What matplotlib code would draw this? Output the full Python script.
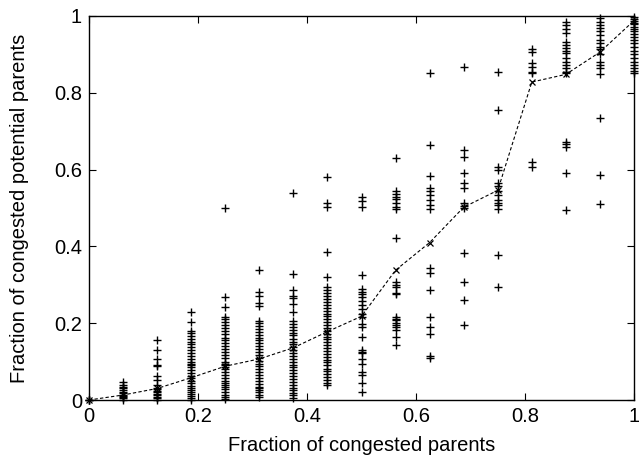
import matplotlib
matplotlib.use("Agg")
import matplotlib.pyplot as plt
from matplotlib.ticker import FuncFormatter

plt.rcParams['font.family'] = ['Liberation Sans', 'DejaVu Sans']

# x positions of the columns (fraction of congested parents, k/16)
fractions = [k / 16 for k in range(17)]

col0 = [0.0, 0.0, 0.0]
col1 = [0.047, 0.04, 0.035, 0.03, 0.026, 0.022, 0.018, 0.014, 0.01, 0.007, 0.004, 0.0]
col2 = [0.156, 0.13, 0.106, 0.09, 0.088, 0.063, 0.052, 0.04, 0.032, 0.028, 0.024, 0.02,
        0.016, 0.012, 0.008, 0.004, 0.0]
col3 = [0.229, 0.203, 0.18, 0.175, 0.166, 0.16, 0.152, 0.145, 0.138, 0.13, 0.122, 0.115,
        0.108, 0.1, 0.095, 0.09, 0.085, 0.078, 0.07, 0.062, 0.056, 0.05, 0.044, 0.036,
        0.03, 0.025, 0.02, 0.015, 0.01, 0.005, 0.0]
col4 = [0.5, 0.269, 0.241, 0.216, 0.21, 0.204, 0.196, 0.188, 0.18, 0.172, 0.162, 0.155,
        0.148, 0.14, 0.132, 0.125, 0.118, 0.11, 0.1, 0.095, 0.09, 0.085, 0.08, 0.072,
        0.065, 0.058, 0.05, 0.045, 0.04, 0.035, 0.028, 0.02, 0.014, 0.008, 0.003]
col5 = [0.338, 0.282, 0.272, 0.252, 0.246, 0.207, 0.2, 0.193, 0.186, 0.178, 0.17, 0.162,
        0.155, 0.148, 0.14, 0.132, 0.125, 0.118, 0.11, 0.102, 0.095, 0.088, 0.08, 0.072,
        0.064, 0.056, 0.05, 0.042, 0.035, 0.03, 0.025, 0.02, 0.014, 0.009]
col6 = [0.54, 0.328, 0.286, 0.272, 0.265, 0.25, 0.23, 0.205, 0.198, 0.19, 0.182, 0.175,
        0.168, 0.16, 0.152, 0.145, 0.138, 0.13, 0.122, 0.115, 0.108, 0.1, 0.092, 0.085,
        0.078, 0.07, 0.062, 0.055, 0.048, 0.04, 0.032, 0.025, 0.018, 0.012, 0.006]
col7 = [0.58, 0.512, 0.502, 0.386, 0.321, 0.295, 0.286, 0.278, 0.27, 0.262, 0.255, 0.248,
        0.24, 0.232, 0.225, 0.218, 0.21, 0.202, 0.195, 0.188, 0.18, 0.172, 0.165, 0.158,
        0.15, 0.142, 0.135, 0.128, 0.12, 0.112, 0.105, 0.098, 0.09, 0.082, 0.075, 0.068,
        0.06, 0.052, 0.045, 0.04]
col8 = [0.529, 0.519, 0.502, 0.326, 0.29, 0.282, 0.275, 0.269, 0.259, 0.247, 0.236, 0.225,
        0.215, 0.198, 0.19, 0.165, 0.13, 0.125, 0.122, 0.106, 0.094, 0.074, 0.065, 0.043,
        0.022]
col9 = [0.629, 0.543, 0.536, 0.529, 0.523, 0.514, 0.503, 0.497, 0.421, 0.308, 0.3, 0.295,
        0.278, 0.275, 0.217, 0.212, 0.208, 0.2, 0.195, 0.191, 0.182, 0.165, 0.143]
col10 = [0.851, 0.664, 0.583, 0.551, 0.543, 0.534, 0.521, 0.508, 0.497, 0.343, 0.33, 0.286,
         0.215, 0.191, 0.172, 0.115, 0.11]
col11 = [0.868, 0.651, 0.634, 0.59, 0.566, 0.551, 0.514, 0.505, 0.499, 0.384, 0.308, 0.26,
         0.195]
col12 = [0.855, 0.755, 0.608, 0.599, 0.566, 0.556, 0.545, 0.535, 0.521, 0.514, 0.508, 0.497,
         0.378, 0.295]
col13 = [0.913, 0.907, 0.877, 0.866, 0.855, 0.851, 0.621, 0.608]
col14 = [0.985, 0.977, 0.967, 0.957, 0.931, 0.924, 0.916, 0.91, 0.903, 0.89, 0.881, 0.872,
         0.864, 0.855, 0.851, 0.673, 0.666, 0.66, 0.592, 0.495]
col15 = [0.995, 0.985, 0.977, 0.968, 0.96, 0.95, 0.938, 0.929, 0.92, 0.913, 0.9, 0.881,
         0.872, 0.864, 0.849, 0.735, 0.585, 0.51]
col16 = [0.998, 0.993, 0.988, 0.983, 0.978, 0.972, 0.966, 0.96, 0.952, 0.945, 0.937, 0.929,
         0.92, 0.91, 0.9, 0.89, 0.88, 0.872, 0.865, 0.857, 0.851]

columns = [col0, col1, col2, col3, col4, col5, col6, col7, col8, col9, col10,
           col11, col12, col13, col14, col15, col16]

mean_values = [0.0, 0.013, 0.03, 0.058, 0.088, 0.107, 0.136, 0.178, 0.218, 0.338,
               0.41, 0.502, 0.546, 0.828, 0.848, 0.906, 0.988]

tick_values = [0, 0.2, 0.4, 0.6, 0.8, 1]

fig = plt.figure(figsize=(6.39, 4.62), dpi=100)
ax = fig.add_axes([89 / 639, 62 / 462, 545 / 639, 384 / 462])

xs, ys = [], []
for f, col in zip(fractions, columns):
    xs.extend([f] * len(col))
    ys.extend(col)

ax.plot(xs, ys, linestyle='none', marker='+', color='black', markersize=5.2,
        markeredgewidth=1.0, clip_on=False, zorder=3)
ax.plot(fractions, mean_values, linestyle=(0, (3, 2)), linewidth=0.8, color='black',
        marker='x', markersize=5, markeredgewidth=0.9, clip_on=False, zorder=4)

ax.set_xlim(0, 1)
ax.set_ylim(0, 1)
ax.set_xticks(tick_values)
ax.set_yticks(tick_values)
fmt = FuncFormatter(lambda v, p: ('%g' % round(v, 2)))
ax.xaxis.set_major_formatter(fmt)
ax.yaxis.set_major_formatter(fmt)
ax.tick_params(direction='in', length=5, width=0.8, top=True, right=True,
               labelsize=14.5, pad=5, colors='black')
for s in ax.spines.values():
    s.set_linewidth(1.0)

ax.set_xlabel('Fraction of congested parents', fontsize=14.5, labelpad=7)
ax.set_ylabel('Fraction of congested potential parents', fontsize=14.5, labelpad=18)

fig.savefig('out.png', dpi=100)
